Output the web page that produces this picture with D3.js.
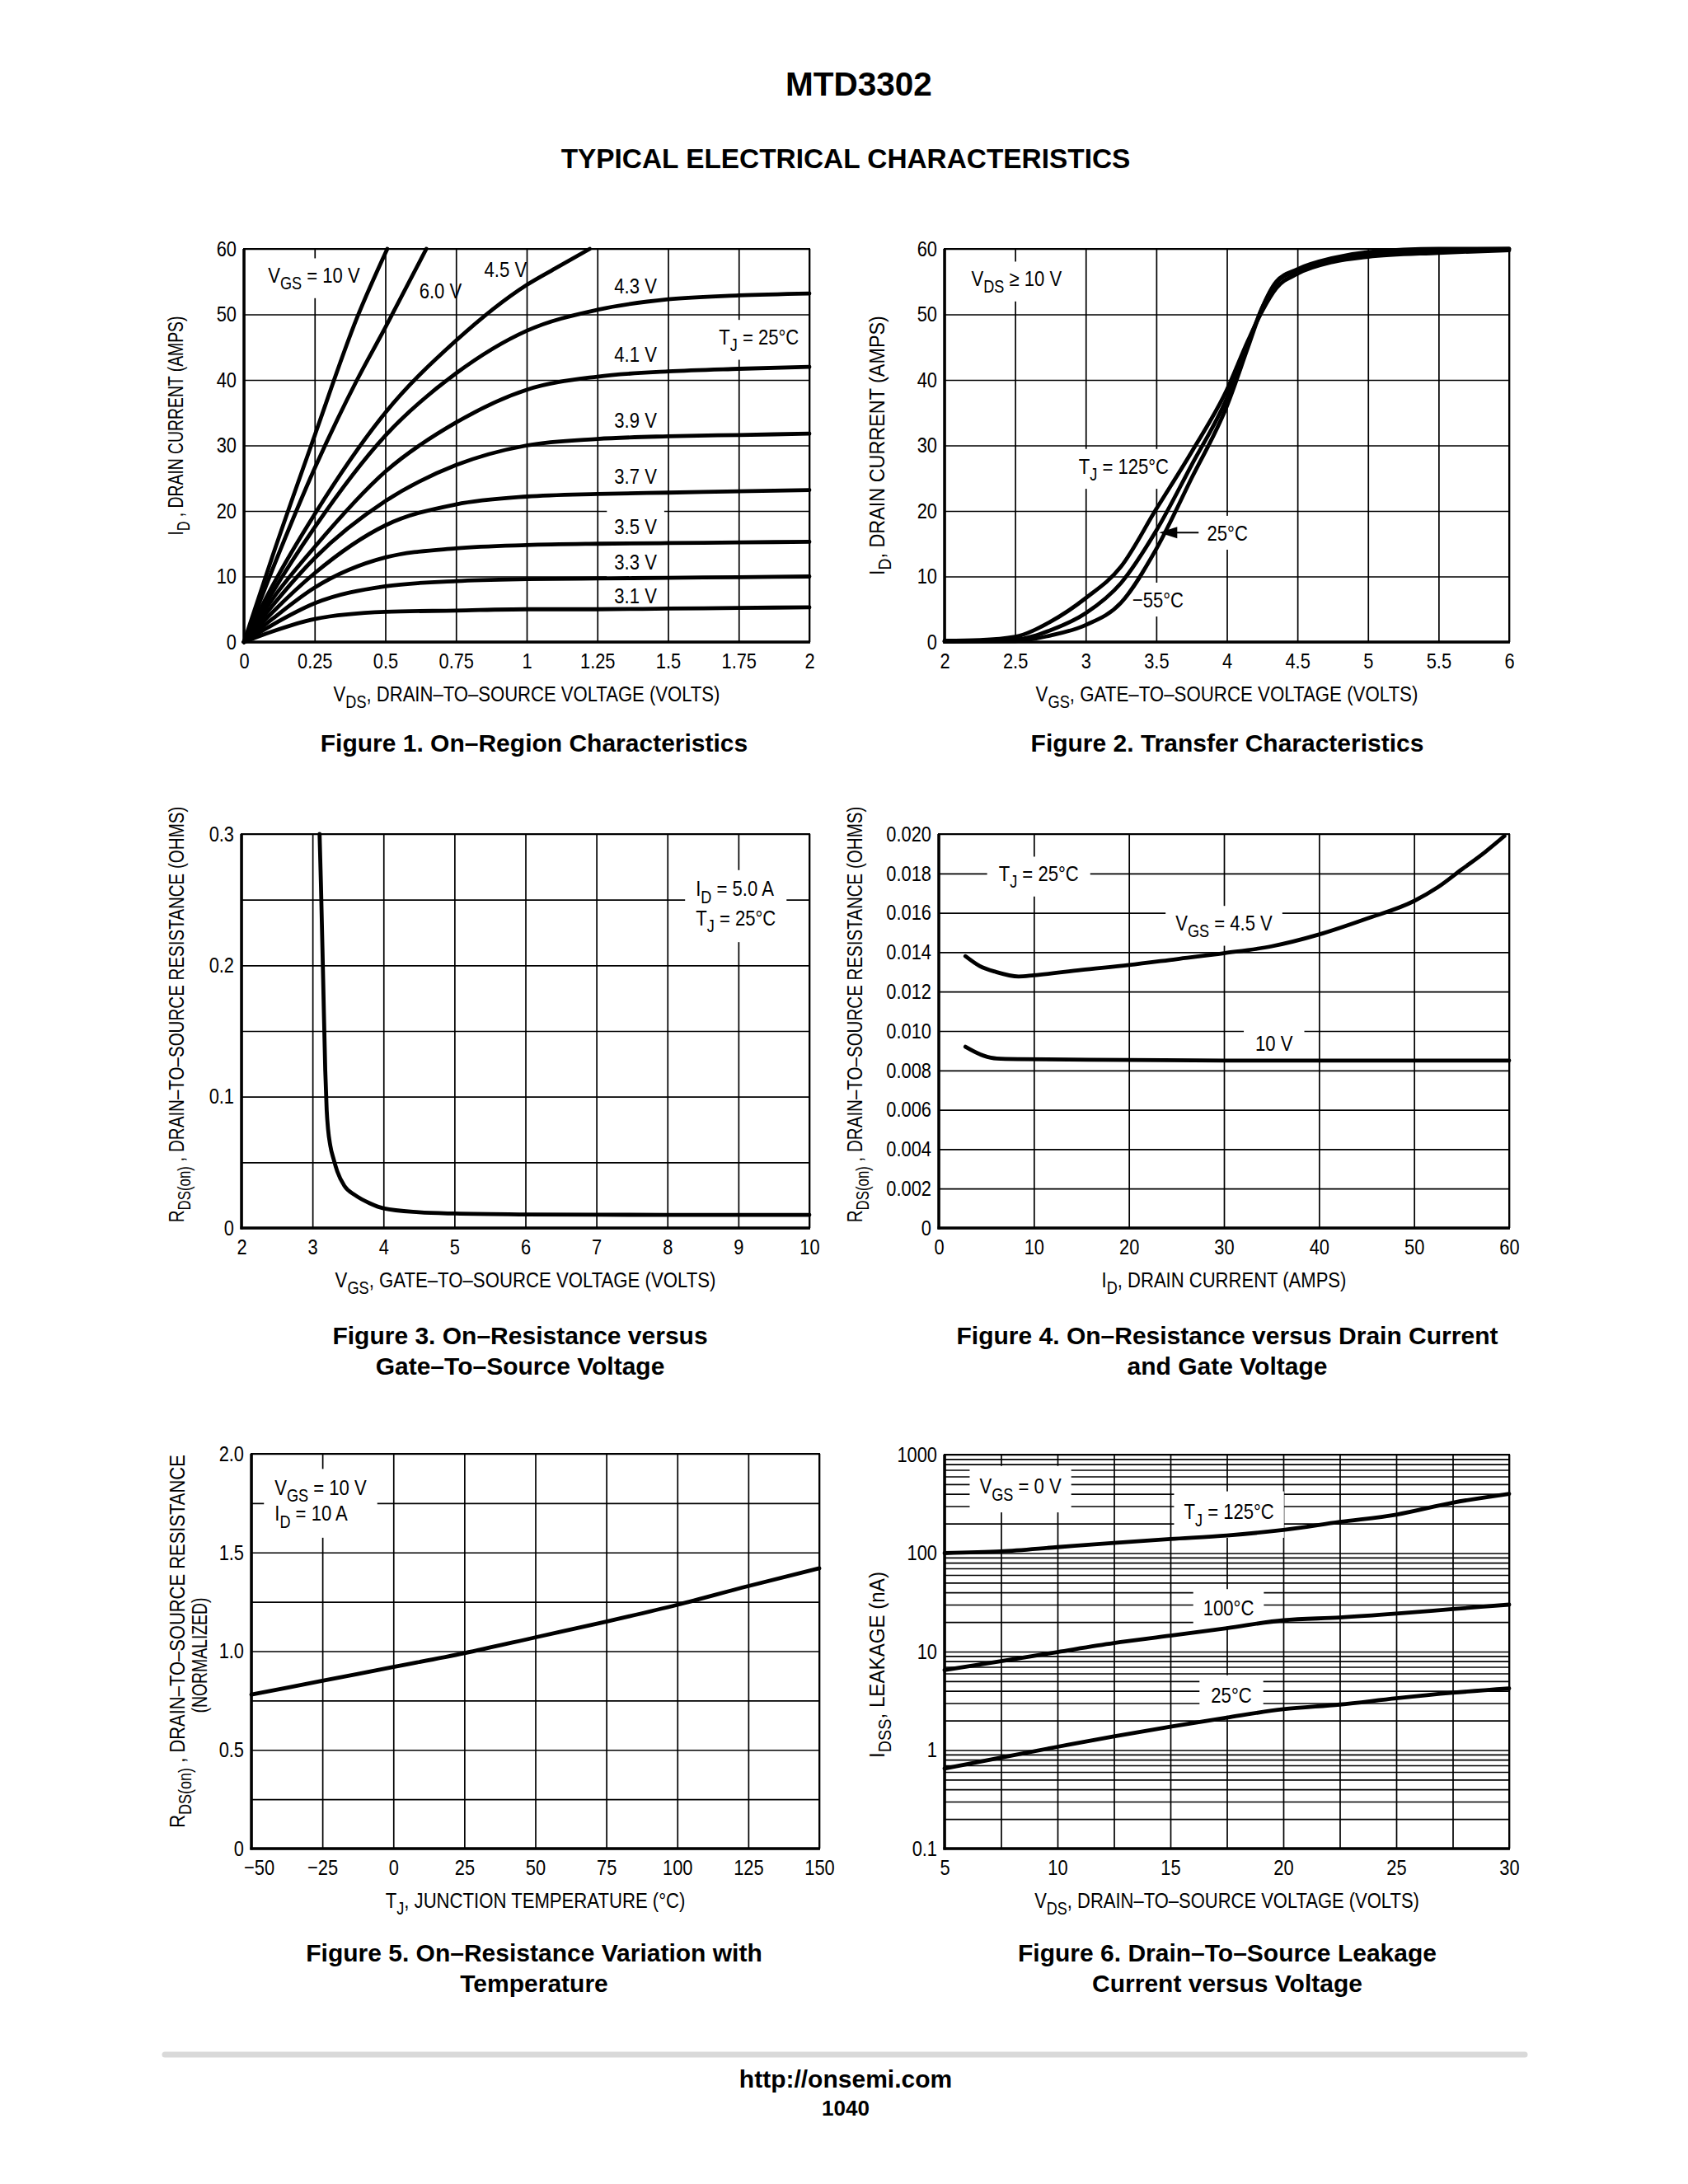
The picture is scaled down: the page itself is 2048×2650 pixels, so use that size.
<!DOCTYPE html>
<html><head><meta charset="utf-8">
<script src="https://cdn.jsdelivr.net/npm/d3@7"></script>
<style>body{margin:0;background:#fff}svg{display:block}</style>
</head><body>
<svg id="c" width="2048" height="2650"></svg>
<script>
// ---------------- DATA ----------------
// Figure 1: On-Region Characteristics (VDS volts -> ID amps)
const f1_vds = [0, 0.1, 0.25, 0.5, 0.75, 1, 1.25, 1.5, 1.75, 2];
const f1_id_43 = [0, 7.5, 17.5, 31.5, 41, 47.5, 50.7, 52.3, 52.9, 53.2];
const f1_id_41 = [0, 6.5, 14.5, 26, 33.5, 38.5, 40.5, 41.3, 41.7, 42];
const f1_id_39 = [0, 5.5, 12.8, 21.5, 27, 30, 31, 31.4, 31.6, 31.8];
const f1_id_37 = [0, 4.5, 10.5, 17.8, 21, 22.2, 22.6, 22.8, 23, 23.2];
const f1_id_35 = [0, 3.5, 8.3, 12.9, 14.3, 14.8, 15, 15.1, 15.2, 15.3];
const f1_id_33 = [0, 2.6, 5.9, 8.5, 9.3, 9.6, 9.7, 9.8, 9.9, 10];
const f1_id_31 = [0, 1.6, 3.5, 4.6, 4.8, 5.0, 5.0, 5.1, 5.2, 5.3];
const f1_vds_10 = [0, 0.1, 0.25, 0.4, 0.507];
const f1_id_10 = [0, 13, 31.5, 49.5, 60];
const f1_vds_6 = [0, 0.1, 0.25, 0.4, 0.5, 0.645];
const f1_id_6 = [0, 11, 26.5, 40, 48, 60];
const f1_vds_45 = [0, 0.1, 0.25, 0.5, 0.75, 1, 1.1, 1.223];
const f1_id_45 = [0, 8.5, 19.5, 35, 46, 54.5, 57, 60];

// Figure 2: Transfer Characteristics (VGS -> ID)
const f2_vgs = [2, 2.25, 2.5, 2.75, 3, 3.25, 3.5, 3.75, 4, 4.15, 4.25, 4.35, 4.5, 4.75, 5, 5.5, 6];
const f2_id_125 = [0.2, 0.3, 0.8, 3.1, 6.7, 11.5, 20.3, 29, 38.5, 46, 50.5, 54, 56.2, 58, 58.8, 59.4, 59.8];
const f2_id_25 = [0.1, 0.2, 0.35, 1.8, 4.4, 9, 17, 27, 37.2, 45.5, 51, 54.8, 56.7, 58.3, 59.2, 59.8, 60];
const f2_id_m55 = [0.05, 0.1, 0.15, 1.0, 2.6, 6, 14.2, 25, 36, 45, 51, 55, 56.9, 58.6, 59.5, 60, 60];

// Figure 3: RDS(on) vs VGS
const f3_vgs = [3.1, 3.12, 3.15, 3.18, 3.2, 3.22, 3.25, 3.3, 3.35, 3.45, 3.6, 3.8, 4.0, 4.5, 5, 6, 7, 8, 10];
const f3_r = [0.3, 0.26, 0.19, 0.12, 0.09, 0.075, 0.063, 0.052, 0.043, 0.032, 0.025, 0.019, 0.015, 0.012, 0.011, 0.0103, 0.0101, 0.01, 0.01];

// Figure 4: RDS(on) vs ID
const f4_id_45 = [2.8, 4.3, 6, 8.4, 10, 15, 20, 25, 30, 35, 40, 45, 50, 52.5, 55, 57.5, 59.5];
const f4_r_45 = [0.0138, 0.0133, 0.0130, 0.01277, 0.01283, 0.0131, 0.01335, 0.01365, 0.01395, 0.0143, 0.0149, 0.0157, 0.0166, 0.0173, 0.0182, 0.0191, 0.0199];
const f4_id_10 = [2.8, 4.7, 6.1, 8.4, 20, 30, 40, 50, 60];
const f4_r_10 = [0.0092, 0.00875, 0.0086, 0.00857, 0.00853, 0.0085, 0.0085, 0.0085, 0.0085];

// Figure 5: normalized RDS(on) vs TJ
const f5_tj = [-50, -25, 0, 25, 50, 75, 100, 125, 150];
const f5_r = [0.78, 0.85, 0.92, 0.99, 1.07, 1.15, 1.235, 1.33, 1.42];

// Figure 6: IDSS leakage vs VDS
const f6_vds = [5, 7.5, 10, 12.5, 15, 17.5, 20, 22.5, 25, 27.5, 30];
const f6_i_125 = [100, 104, 115, 127, 139, 151, 172, 207, 246, 325, 400];
const f6_i_100 = [6.5, 8.0, 9.9, 12.2, 14.5, 17.3, 20.8, 22.2, 24.3, 27, 30];
const f6_i_25 = [0.65, 0.84, 1.08, 1.38, 1.73, 2.14, 2.6, 2.9, 3.36, 3.82, 4.23];

// tick labels
const f1_xticks = [0, 0.25, 0.5, 0.75, 1, 1.25, 1.5, 1.75, 2];
const f1_xlabels = ["0", "0.25", "0.5", "0.75", "1", "1.25", "1.5", "1.75", "2"];
const f1_yticks = [0, 10, 20, 30, 40, 50, 60];
const f2_xticks = [2, 2.5, 3, 3.5, 4, 4.5, 5, 5.5, 6];
const f2_xlabels = ["2", "2.5", "3", "3.5", "4", "4.5", "5", "5.5", "6"];
const f3_xticks = [2, 3, 4, 5, 6, 7, 8, 9, 10];
const f3_yticks = [0, 0.1, 0.2, 0.3];
const f3_ylabels = ["0", "0.1", "0.2", "0.3"];
const f4_xticks = [0, 10, 20, 30, 40, 50, 60];
const f4_yticks = [0, 0.002, 0.004, 0.006, 0.008, 0.010, 0.012, 0.014, 0.016, 0.018, 0.020];
const f4_ylabels = ["0", "0.002", "0.004", "0.006", "0.008", "0.010", "0.012", "0.014", "0.016", "0.018", "0.020"];
const f5_xticks = [-50, -25, 0, 25, 50, 75, 100, 125, 150];
const f5_xlabels = ["\u221250", "\u221225", "0", "25", "50", "75", "100", "125", "150"];
const f5_yticks = [0, 0.5, 1.0, 1.5, 2.0];
const f5_ylabels = ["0", "0.5", "1.0", "1.5", "2.0"];
const f6_xticks = [5, 10, 15, 20, 25, 30];
const f6_yticks = [0.1, 1, 10, 100, 1000];
const f6_ylabels = ["0.1", "1", "10", "100", "1000"];

// ---------------- DRAWING ----------------
const FN = "'Liberation Sans Narrow','Liberation Sans',Arial,sans-serif";
const FB = "'Liberation Sans',Arial,sans-serif";
const svg = d3.select("#c");
svg.append("rect").attr("width", 2048).attr("height", 2650).attr("fill", "#fff");

function rich(t, parts, size) {
  const sub = size * 0.82, sh = size * 0.32;
  let down = false;
  parts.forEach(p => {
    if (typeof p === "string") {
      const ts = t.append("tspan").text(p).attr("font-size", size);
      if (down) { ts.attr("dy", -sh); down = false; }
    } else {
      const ts = t.append("tspan").text(p.sub).attr("font-size", sub);
      if (!down) { ts.attr("dy", sh); down = true; }
    }
  });
}

// condensed text: drawn at origin, then placed with translate/rotate/scaleX
function ctext(parent, X, Y, parts, o) {
  const t = parent.append("text").attr("x", 0).attr("y", 0)
    .attr("text-anchor", o.anchor || "start").attr("font-family", FN).attr("fill", "#000");
  rich(t, parts, o.size || 26);
  const L = t.node().getComputedTextLength();
  const f = o.len ? o.len / L : (o.f || 0.85);
  t.attr("transform", `translate(${X},${Y})${o.rot ? " rotate(-90)" : ""} scale(${f},1)`);
  const bb = t.node().getBBox();
  return { t, box: { x: X + bb.x * f, y: Y + bb.y, w: bb.width * f, h: bb.height } };
}

function chart(c) {
  const g = svg.append("g");
  const x = d3.scaleLinear().domain(c.xd).range([c.l, c.r]);
  const y = (c.log ? d3.scaleLog() : d3.scaleLinear()).domain(c.yd).range([c.b, c.t]);
  const gridStyle = s => { s.select(".domain").remove(); s.selectAll("line").attr("stroke", "#000").attr("stroke-width", 1.7); };
  g.append("g").attr("transform", `translate(0,${c.b})`)
    .call(d3.axisBottom(x).tickValues(c.xg).tickSize(-(c.b - c.t)).tickFormat("")).call(gridStyle);
  g.append("g").attr("transform", `translate(${c.l},0)`)
    .call(d3.axisLeft(y).tickValues(c.yg).tickSize(-(c.r - c.l)).tickFormat("")).call(gridStyle);
  g.append("rect").attr("x", c.l).attr("y", c.t).attr("width", c.r - c.l).attr("height", c.b - c.t)
    .attr("fill", "none").attr("stroke", "#000").attr("stroke-width", 2);
  const tickStyle = s => {
    s.select(".domain").remove(); s.attr("font-family", FN).attr("font-size", 26);
    s.selectAll("text").attr("fill", "#000").each(function () {
      const L = this.getComputedTextLength();
      d3.select(this).attr("textLength", L * 0.84).attr("lengthAdjust", "spacingAndGlyphs");
    });
  };
  const xa = g.append("g").attr("transform", `translate(0,${c.b})`)
    .call(d3.axisBottom(x).tickValues(c.xt).tickFormat((d, i) => c.xtl ? c.xtl[i] : String(d)).tickSize(0).tickPadding(14)).call(tickStyle);
  if (c.firstXdx) xa.select(".tick text").attr("dx", c.firstXdx);
  g.append("g").attr("transform", `translate(${c.l},0)`)
    .call(d3.axisLeft(y).tickValues(c.yt).tickFormat((d, i) => c.ytl ? c.ytl[i] : String(d)).tickSize(0).tickPadding(9)).call(tickStyle);
  // x title
  ctext(g, (c.l + c.r) / 2, c.b + 72, c.xtitle, { anchor: "middle", len: c.xlen });
  // y title(s)
  c.ytitle.forEach((tl, i) => {
    ctext(g, c.ytx[i], (c.t + c.b) / 2 + c.yto[i], tl, { anchor: "middle", len: c.ylen[i], rot: true });
  });
  // caption
  c.cap.forEach((s, i) => {
    g.append("text").attr("x", c.capx).attr("y", c.capy + i * 37).attr("text-anchor", "middle")
      .attr("font-family", FB).attr("font-weight", "bold").attr("font-size", 30).text(s);
  });
  const bgLayer = g.append("g");
  const labelLayer = g.append("g");
  const curveLayer = g.append("g");
  const axisLayer = g.append("g");
  axisLayer.append("line").attr("x1", c.l).attr("x2", c.l).attr("y1", c.t).attr("y2", c.b + 1.5).attr("stroke", "#000").attr("stroke-width", 3.5);
  axisLayer.append("line").attr("x1", c.l - 1.5).attr("x2", c.r + 1).attr("y1", c.b).attr("y2", c.b).attr("stroke", "#000").attr("stroke-width", 3.5);
  return { g, x, y, bgLayer, labelLayer, curveLayer };
}

function curve(ch, xs, ys) {
  const pts = xs.map((v, i) => [v, ys[i]]);
  ch.curveLayer.append("path").datum(pts)
    .attr("d", d3.line().x(d => ch.x(d[0])).y(d => ch.y(d[1])).curve(d3.curveMonotoneX))
    .attr("fill", "none").attr("stroke", "#000").attr("stroke-width", 4.8).attr("stroke-linejoin", "round").attr("stroke-linecap", "round");
}

function label(ch, xv, yv, parts, opt) {
  opt = opt || {};
  const size = 26;
  const r = ctext(ch.labelLayer, ch.x(xv), ch.y(yv) + size * 0.36, parts, { size, f: 0.85 });
  if (opt.bg !== false) {
    const px = opt.px != null ? opt.px : 9, py = opt.py != null ? opt.py : 6;
    ch.bgLayer.append("rect").attr("x", r.box.x - px).attr("y", r.box.y - py)
      .attr("width", r.box.w + 2 * px).attr("height", r.box.h + 2 * py).attr("fill", "#fff");
  }
  return r;
}

function pairBox(ch, r1, r2) {
  const b1 = r1.box, b2 = r2.box;
  const x0 = Math.min(b1.x, b2.x) - 13, x1 = Math.max(b1.x + b1.w, b2.x + b2.w) + 13;
  ch.bgLayer.append("rect").attr("x", x0).attr("y", b1.y - 8).attr("width", x1 - x0)
    .attr("height", b2.y + b2.h - b1.y + 16).attr("fill", "#fff");
}

const range = (a, b, s) => d3.range(a, b + s / 2, s);

// Figure 1
const c1 = chart({ l: 296, r: 982, t: 302, b: 779, xd: [0, 2], yd: [0, 60],
  xg: range(0, 2, 0.25), yg: range(0, 60, 10), xt: f1_xticks, xtl: f1_xlabels, yt: f1_yticks,
  xtitle: ["V", { sub: "DS" }, ", DRAIN\u2013TO\u2013SOURCE VOLTAGE (VOLTS)"], xlen: 469,
  ytitle: [["I", { sub: "D" }, " , DRAIN CURRENT (AMPS)"]], ytx: [222], yto: [-24], ylen: [266],
  cap: ["Figure 1. On\u2013Region Characteristics"], capx: 648, capy: 912 });
label(c1, 0.085, 56, ["V", { sub: "GS" }, " = 10 V"]);
label(c1, 0.62, 53.6, ["6.0 V"], { bg: false });
label(c1, 0.85, 56.9, ["4.5 V"], { bg: false });
label(c1, 1.68, 46.6, ["T", { sub: "J" }, " = 25\u00B0C"]);
[[54.4, "4.3 V"], [44, "4.1 V"], [33.9, "3.9 V"], [25.3, "3.7 V"], [17.7, "3.5 V"], [12.2, "3.3 V"], [7.1, "3.1 V"]]
  .forEach(d => label(c1, 1.31, d[0], [d[1]], { py: 9 }));
curve(c1, f1_vds_10, f1_id_10);
curve(c1, f1_vds_6, f1_id_6);
curve(c1, f1_vds_45, f1_id_45);
[f1_id_43, f1_id_41, f1_id_39, f1_id_37, f1_id_35, f1_id_33, f1_id_31].forEach(s => curve(c1, f1_vds, s));

// Figure 2
const c2 = chart({ l: 1146, r: 1831, t: 302, b: 779, xd: [2, 6], yd: [0, 60],
  xg: range(2, 6, 0.5), yg: range(0, 60, 10), xt: f2_xticks, xtl: f2_xlabels, yt: f1_yticks,
  xtitle: ["V", { sub: "GS" }, ", GATE\u2013TO\u2013SOURCE VOLTAGE (VOLTS)"], xlen: 464,
  ytitle: [["I", { sub: "D" }, ", DRAIN CURRENT (AMPS)"]], ytx: [1073], yto: [0], ylen: [315],
  cap: ["Figure 2. Transfer Characteristics"], capx: 1489, capy: 912 });
label(c2, 2.19, 55.5, ["V", { sub: "DS" }, " \u2265 10 V"]);
label(c2, 2.95, 26.9, ["T", { sub: "J" }, " = 125\u00B0C"]);
label(c2, 3.86, 16.7, ["25\u00B0C"]);
label(c2, 3.33, 6.5, ["\u221255\u00B0C"]);
curve(c2, f2_vgs, f2_id_125);
curve(c2, f2_vgs, f2_id_25);
curve(c2, f2_vgs, f2_id_m55);
{
  const ya = c2.y(16.7), xh = c2.x(3.52), xtail = c2.x(3.80);
  c2.curveLayer.append("line").attr("x1", xh + 10).attr("x2", xtail).attr("y1", ya).attr("y2", ya).attr("stroke", "#000").attr("stroke-width", 2.2);
  c2.curveLayer.append("path").attr("d", `M${xh},${ya} L${xh + 22},${ya - 7} L${xh + 22},${ya + 7} Z`).attr("fill", "#000");
}

// Figure 3
const c3 = chart({ l: 293, r: 982, t: 1012, b: 1490, xd: [2, 10], yd: [0, 0.3],
  xg: range(2, 10, 1), yg: range(0, 0.3, 0.05), xt: f3_xticks, yt: f3_yticks, ytl: f3_ylabels,
  xtitle: ["V", { sub: "GS" }, ", GATE\u2013TO\u2013SOURCE VOLTAGE (VOLTS)"], xlen: 462,
  ytitle: [["R", { sub: "DS(on)" }, " , DRAIN\u2013TO\u2013SOURCE RESISTANCE (OHMS)"]], ytx: [223], yto: [-20], ylen: [505],
  cap: ["Figure 3. On\u2013Resistance versus", "Gate\u2013To\u2013Source Voltage"], capx: 631, capy: 1631 });
pairBox(c3, label(c3, 8.4, 0.2585, ["I", { sub: "D" }, " = 5.0 A"], { bg: false }),
  label(c3, 8.4, 0.2365, ["T", { sub: "J" }, " = 25\u00B0C"], { bg: false }));
curve(c3, f3_vgs, f3_r);

// Figure 4
const c4 = chart({ l: 1139, r: 1831, t: 1012, b: 1490, xd: [0, 60], yd: [0, 0.02],
  xg: range(0, 60, 10), yg: range(0, 0.02, 0.002), xt: f4_xticks, yt: f4_yticks, ytl: f4_ylabels,
  xtitle: ["I", { sub: "D" }, ", DRAIN CURRENT (AMPS)"], xlen: 297,
  ytitle: [["R", { sub: "DS(on)" }, " , DRAIN\u2013TO\u2013SOURCE RESISTANCE (OHMS)"]], ytx: [1046], yto: [-20], ylen: [505],
  cap: ["Figure 4. On\u2013Resistance versus Drain Current", "and Gate Voltage"], capx: 1489, capy: 1631 });
label(c4, 6.3, 0.0180, ["T", { sub: "J" }, " = 25\u00B0C"], { px: 14 });
label(c4, 24.9, 0.0155, ["V", { sub: "GS" }, " = 4.5 V"], { px: 12 });
label(c4, 33.3, 0.0094, ["10 V"], { px: 14 });
curve(c4, f4_id_45, f4_r_45);
curve(c4, f4_id_10, f4_r_10);

// Figure 5
const c5 = chart({ l: 305, r: 994, t: 1764, b: 2243, xd: [-50, 150], yd: [0, 2],
  xg: range(-50, 150, 25), yg: range(0, 2, 0.25), xt: f5_xticks, xtl: f5_xlabels, yt: f5_yticks, ytl: f5_ylabels,
  firstXdx: 9,
  xtitle: ["T", { sub: "J" }, ", JUNCTION TEMPERATURE (\u00B0C)"], xlen: 364,
  ytitle: [["R", { sub: "DS(on)" }, " , DRAIN\u2013TO\u2013SOURCE RESISTANCE"], ["(NORMALIZED)"]], ytx: [224, 251], yto: [-12, 5], ylen: [453, 140],
  cap: ["Figure 5. On\u2013Resistance Variation with", "Temperature"], capx: 648, capy: 2380 });
pairBox(c5, label(c5, -41.8, 1.83, ["V", { sub: "GS" }, " = 10 V"], { bg: false }),
  label(c5, -41.8, 1.70, ["I", { sub: "D" }, " = 10 A"], { bg: false }));
curve(c5, f5_tj, f5_r);

// Figure 6
const f6_ygrid = [];
[0.1, 1, 10, 100].forEach(d => { for (let k = 1; k < 10; k++) f6_ygrid.push(d * k); });
f6_ygrid.push(1000);
const c6 = chart({ l: 1146, r: 1831, t: 1765, b: 2243, xd: [5, 30], yd: [0.1, 1000], log: true,
  xg: range(5, 30, 2.5), yg: f6_ygrid, xt: f6_xticks, yt: f6_yticks, ytl: f6_ylabels,
  xtitle: ["V", { sub: "DS" }, ", DRAIN\u2013TO\u2013SOURCE VOLTAGE (VOLTS)"], xlen: 467,
  ytitle: [["I", { sub: "DSS" }, ", LEAKAGE (nA)"]], ytx: [1073], yto: [16], ylen: [226],
  cap: ["Figure 6. Drain\u2013To\u2013Source Leakage", "Current versus Voltage"], capx: 1489, capy: 2380 });
label(c6, 6.55, 480, ["V", { sub: "GS" }, " = 0 V"], { px: 12, py: 10 });
label(c6, 15.6, 265, ["T", { sub: "J" }, " = 125\u00B0C"], { px: 12, py: 10 });
label(c6, 16.45, 28, ["100\u00B0C"], { px: 12, py: 8 });
label(c6, 16.8, 3.6, ["25\u00B0C"], { px: 14, py: 10 });
curve(c6, f6_vds, f6_i_125);
curve(c6, f6_vds, f6_i_100);
curve(c6, f6_vds, f6_i_25);

// Titles & footer
svg.append("text").attr("x", 1042).attr("y", 116).attr("text-anchor", "middle").attr("font-family", FB)
  .attr("font-weight", "bold").attr("font-size", 40.5).text("MTD3302");
svg.append("text").attr("x", 1026).attr("y", 204).attr("text-anchor", "middle").attr("font-family", FB)
  .attr("font-weight", "bold").attr("font-size", 33.4).text("TYPICAL ELECTRICAL CHARACTERISTICS");
svg.append("line").attr("x1", 200).attr("x2", 1850).attr("y1", 2493).attr("y2", 2493)
  .attr("stroke", "#d9d9d9").attr("stroke-width", 7).attr("stroke-linecap", "round");
svg.append("text").attr("x", 1026).attr("y", 2533).attr("text-anchor", "middle").attr("font-family", FB)
  .attr("font-weight", "bold").attr("font-size", 30).text("http://onsemi.com");
svg.append("text").attr("x", 1026).attr("y", 2567).attr("text-anchor", "middle").attr("font-family", FB)
  .attr("font-weight", "bold").attr("font-size", 26).text("1040");
</script>
</body></html>
